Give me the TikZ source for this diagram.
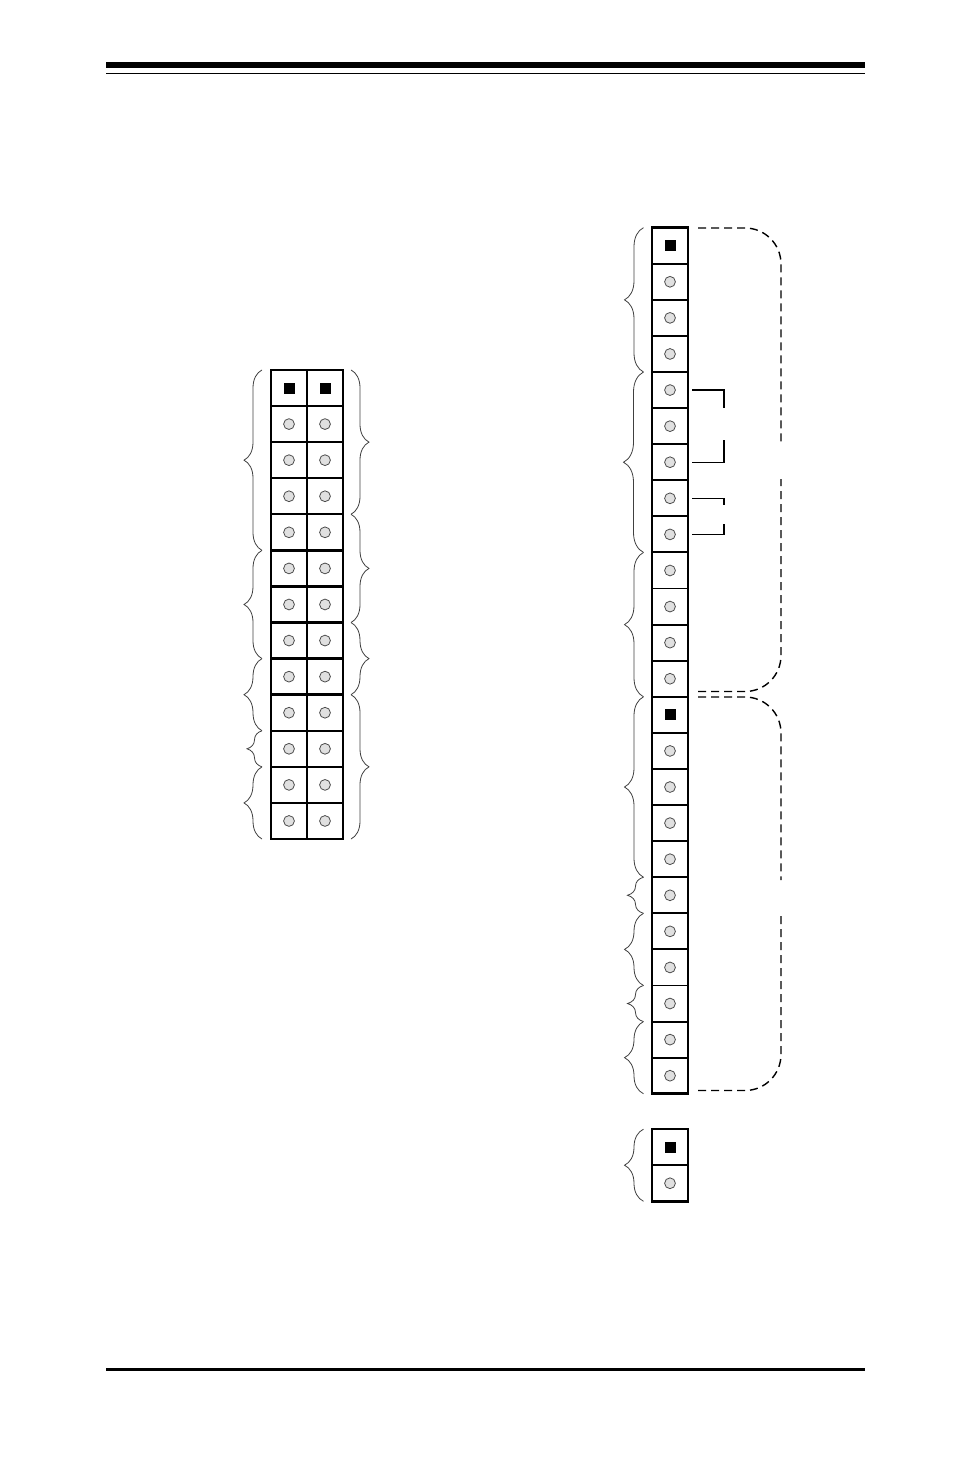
\documentclass[tikz,border=0pt]{standalone}
\usepackage{amsmath}
\usetikzlibrary{decorations.pathreplacing}
\tikzset{
  cell/.style={draw, line width=2.4pt, minimum width=36pt, minimum height=36.08pt, inner sep=0pt, outer sep=0pt},
  thincell/.style={cell, line width=1.9pt, minimum height=36.09pt},
  frame/.style={draw, line width=2.6pt},
  pin/.style={circle, draw=black!70, line width=0.8pt, fill=black!12, minimum size=10.8pt, inner sep=0pt},
  keypin/.style={fill=black, minimum size=11pt, inner sep=0pt},
  lbrace/.style={draw=black!75, line width=0.8pt, decorate, decoration={brace, mirror, amplitude=#1}},
  rbrace/.style={draw=black!75, line width=0.8pt, decorate, decoration={brace, amplitude=#1}},
  tie/.style={line width=1.1pt},
  bus/.style={line width=1.4pt, dash pattern=on 8pt off 5pt, rounded corners=36pt}
}
\begin{document}
\begin{tikzpicture}[x=1pt,y=-1pt]
    \useasboundingbox (0,0) rectangle (954,1457);
    % page rules
    \fill (106,62) rectangle (865,68);
    \fill (106,72.8) rectangle (865,74.3);
    \fill (106,1368.2) rectangle (865,1371);
    % two-row header
    \foreach \i in {0,...,12} {
      \node [cell] (a-\i) at (289,388+36.08*\i) {};
      \node [cell] (b-\i) at (325,388+36.08*\i) {};
      \ifnum\i>0
        \node [pin] (pa-\i) at (a-\i) {};
        \node [pin] (pb-\i) at (b-\i) {};
      \else
        \node [keypin] (pa-\i) at (a-\i) {};
        \node [keypin] (pb-\i) at (b-\i) {};
      \fi
    }
    % one-row header
    \foreach \i in {0,...,23} {
      \node [thincell] (r-\i) at (670,245.7+36.087*\i) {};
      \ifnum\i=0
        \node [keypin] (pr-\i) at (r-\i) {};
      \else\ifnum\i=13
        \node [keypin] (pr-\i) at (r-\i) {};
      \else
        \node [pin] (pr-\i) at (r-\i) {};
      \fi\fi
    }
    \draw [frame] (r-0.north west) rectangle (r-23.south east);
    % short header
    \node [thincell] (s-0) at (670,1147.2) {};
    \node [thincell] (s-1) at (s-0.south) [yshift=-18pt] {};
    \node [keypin] (ps-0) at (s-0) {};
    \node [pin] (ps-1) at (s-1) {};
    \draw [frame] (s-0.north west) rectangle (s-1.south east);
    % braces, two-row header
    \foreach \u/\v/\w in {0/4/18,5/7/18,8/9/18,10/10/15,11/12/18}
      \draw [lbrace=\w] ([xshift=-9pt]a-\u.north west) -- ([xshift=-9pt]a-\v.south west);
    \foreach \u/\v/\w in {0/3/18,4/6/18,7/8/18,9/12/18}
      \draw [rbrace=\w] ([xshift=8pt]b-\u.north east) -- ([xshift=8pt]b-\v.south east);
    % braces, one-row header
    \foreach \u/\v/\w in {0/3/19,4/8/20,9/12/19,13/17/19,18/18/16,19/20/19,21/21/16,22/23/19}
      \draw [lbrace=\w] ([xshift=-8.5pt]r-\u.north west) -- ([xshift=-8.5pt]r-\v.south west);
    \draw [lbrace=19] ([xshift=-8.5pt]s-0.north west) -- ([xshift=-8.5pt]s-1.south west);
    % ties
    \coordinate (t1) at (724,408);
    \coordinate (t2) at (724,440);
    \coordinate (t3) at (724,505);
    \coordinate (t4) at (724,524);
    \draw [tie, line width=1.5pt] ([xshift=4pt]r-4.east) -| (t1);
    \draw [tie] ([xshift=4pt]r-6.east) -| (t2);
    \draw [tie] ([xshift=4pt]r-7.east) -| (t3);
    \draw [tie] ([xshift=4pt]r-8.east) -| (t4);
    % dashed buses
    \coordinate (d1) at (698,228);
    \coordinate (d2) at (781,445);
    \coordinate (d3) at (781,479);
    \coordinate (d4) at (698,691.5);
    \coordinate (d5) at (698,697);
    \coordinate (d6) at (781,880);
    \coordinate (d7) at (781,912);
    \coordinate (d8) at (698,1090.5);
    \draw [bus] (d1) -| (d2);
    \draw [bus] (d4) -| (d3);
    \draw [bus] (d5) -| (d6);
    \draw [bus] (d8) -| (d7);
  \end{tikzpicture}
\end{document}
